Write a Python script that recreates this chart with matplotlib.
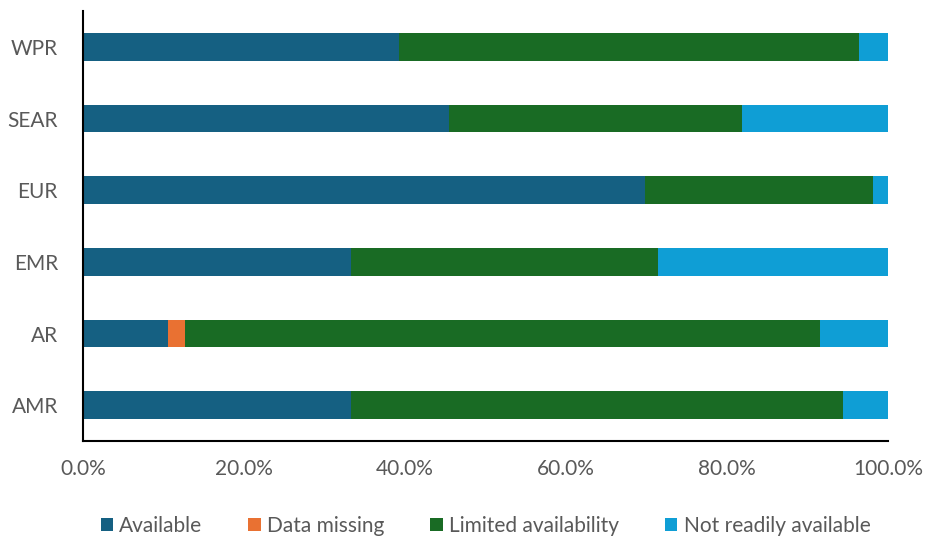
import matplotlib
matplotlib.use("Agg")
import matplotlib.pyplot as plt
from matplotlib.ticker import PercentFormatter

plt.rcParams['font.family'] = ['Lato', 'DejaVu Sans']

# Regions, bottom to top as drawn
regions = ["AMR", "AR", "EMR", "EUR", "SEAR", "WPR"]

# Share of countries (%) per availability category
available = [33.3, 10.6, 33.3, 69.8, 45.5, 39.3]
data_missing = [0.0, 2.1, 0.0, 0.0, 0.0, 0.0]
limited = [61.1, 78.8, 38.1, 28.3, 36.4, 57.1]
not_readily = [5.6, 8.5, 28.6, 1.9, 18.1, 3.6]

series = [
    ("Available", available, "#156082"),
    ("Data missing", data_missing, "#E97132"),
    ("Limited availability", limited, "#196B24"),
    ("Not readily available", not_readily, "#0F9ED5"),
]

fig = plt.figure(figsize=(9.26, 5.4), dpi=100)
ax = fig.add_axes([0.0896, 0.1833, 0.8694, 0.7963])

left = [0.0] * len(regions)
for name, vals, col in series:
    ax.barh(regions, vals, left=left, height=0.39, color=col, label=name)
    left = [a + b for a, b in zip(left, vals)]

ax.set_xlim(0, 100)
ax.set_ylim(-0.5, 5.5)
ax.xaxis.set_major_formatter(PercentFormatter(decimals=1))
ax.set_xticks([0, 20, 40, 60, 80, 100])

for s in ["top", "right"]:
    ax.spines[s].set_visible(False)
for s in ["left", "bottom"]:
    ax.spines[s].set_color("black")
    ax.spines[s].set_linewidth(1.5)

ax.tick_params(axis="both", length=0, labelsize=15, labelcolor="#595959")
ax.tick_params(axis="x", pad=13)
ax.tick_params(axis="y", pad=18)

ax.legend(loc="lower center", bbox_to_anchor=(0.5, -0.265), ncol=4, frameon=False,
          fontsize=15, labelcolor="#595959", handlelength=0.6, handleheight=0.6,
          handletextpad=0.3, columnspacing=2.2)

fig.savefig("out.png", dpi=100)
